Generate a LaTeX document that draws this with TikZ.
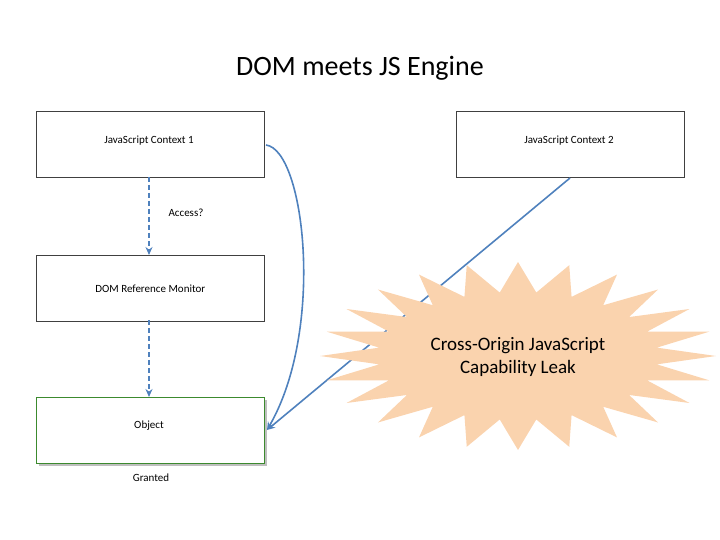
\documentclass[tikz,border=0pt]{standalone}
\usepackage{fontspec}
\setmainfont{Carlito}
\usetikzlibrary{arrows.meta}
\definecolor{arr}{HTML}{4F81BD}
\definecolor{peach}{HTML}{FAD3AE}
\definecolor{grn}{HTML}{3C8A2E}
\begin{document}
\begin{tikzpicture}[x=1pt,y=-1pt,
  box/.style={draw=black!75,line width=0.6pt,fill=white,minimum width=228pt,minimum height=66pt,anchor=north west,inner sep=0pt,font=\fontsize{11}{13}\selectfont},
  con/.style={draw=arr,line width=1.6pt,-{Stealth[length=8pt,width=7pt]}},
  dcon/.style={con,dash pattern=on 5pt off 3pt}]
\useasboundingbox (0,0) rectangle (720,540);
\node[font=\fontsize{28}{32}\selectfont] (title) at (360,68) {DOM meets JS Engine};
\node[box] (c1) at (36,111) {};
\node at (149,141) {\fontsize{11}{13}\selectfont JavaScript Context 1};
\node[box] (c2) at (456,111) {};
\node at (569,141) {\fontsize{11}{13}\selectfont JavaScript Context 2};
\node[box] (rm) at (36,255) {DOM Reference Monitor};
\fill[black!25] (39,400) rectangle (267,466);
\node[box,draw=grn,line width=1pt] (obj) at (36,397) {};
\node at (149,426) {\fontsize{11}{13}\selectfont Object};
\node[font=\fontsize{11}{13}\selectfont] (acc) at (186,213) {Access?};
\node[font=\fontsize{11}{13}\selectfont] (gr) at (151,478) {Granted};
\coordinate (tip) at (267,430);
\draw[dcon] (149,177) -- (149,255);
\draw[dcon] (149,320) -- (149,397);
\draw[con] (266,145) .. controls (305,150) and (325,330) .. (tip);
\draw[con] (570,178) -- (tip);
\fill[peach] (716,356) \foreach \i in {1,...,47} {
  -- ({518+(140+58*mod(\i+1,2))*cos(\i*7.5)},{356+(64+30*mod(\i+1,2))*sin(\i*7.5)})} -- cycle;
\node[font=\fontsize{19}{23}\selectfont,align=center] (leak) at (518,357) {Cross-Origin JavaScript\\Capability Leak};
\end{tikzpicture}
\end{document}
